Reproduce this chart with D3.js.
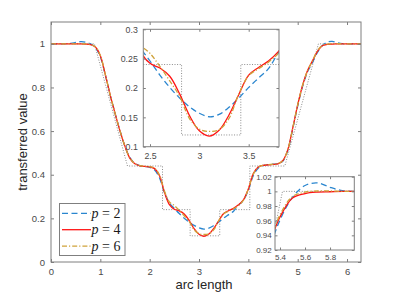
<!DOCTYPE html>
<html>
<head>
<meta charset="utf-8">
<script src="https://cdn.jsdelivr.net/npm/d3@7"></script>
<style>
body{margin:0;background:#fff;}
svg{display:block;font-family:"Liberation Sans",Arial,sans-serif;}
</style>
</head>
<body>
<div id="canvas"></div>
<script>
// sample positions along the arc (shared by the three reconstructions)
var arcS = [0, 0.2, 0.4, 0.5, 0.6, 0.7, 0.8, 0.9, 1.0, 1.1, 1.2, 1.3, 1.4, 1.5, 1.6, 1.7, 1.8, 1.9, 2.0, 2.1,
  2.2, 2.3, 2.4, 2.5, 2.6, 2.7, 2.8, 2.9, 3.0, 3.1, 3.2, 3.3, 3.4, 3.5, 3.6, 3.7, 3.8, 3.9, 4.0, 4.1,
  4.2, 4.3, 4.4, 4.5, 4.6, 4.7, 4.8, 4.9, 5.0, 5.1, 5.2, 5.3, 5.4, 5.5, 5.6, 5.7, 5.8, 5.9, 6.0, 6.1, 6.2832];

var valsP2 = [1.000, 1.000, 1.002, 1.006, 1.010, 1.008, 1.000, 0.983, 0.940, 0.858, 0.765, 0.680, 0.600, 0.530, 0.478, 0.452, 0.442, 0.438, 0.434, 0.422,
  0.385, 0.318, 0.270, 0.246, 0.222, 0.201, 0.183, 0.168, 0.157, 0.151, 0.155, 0.167, 0.183, 0.201, 0.217, 0.233, 0.260, 0.283, 0.330, 0.395,
  0.430, 0.442, 0.446, 0.448, 0.451, 0.463, 0.512, 0.610, 0.715, 0.805, 0.872, 0.915, 0.961, 0.992, 1.008, 1.0115, 1.0055, 1.001, 1.000, 1.000, 1.000];

var valsP4 = [1.000, 1.000, 1.000, 1.000, 1.000, 0.999, 0.996, 0.985, 0.945, 0.860, 0.765, 0.680, 0.600, 0.530, 0.475, 0.450, 0.441, 0.438, 0.436, 0.428,
  0.395, 0.320, 0.263, 0.242, 0.234, 0.220, 0.190, 0.153, 0.127, 0.118, 0.128, 0.154, 0.189, 0.222, 0.235, 0.246, 0.262, 0.285, 0.335, 0.405,
  0.435, 0.443, 0.445, 0.447, 0.450, 0.465, 0.515, 0.615, 0.720, 0.810, 0.878, 0.922, 0.965, 0.991, 0.997, 0.999, 0.9995, 1.000, 1.000, 1.000, 1.000];

var valsP6 = [1.000, 1.000, 1.000, 1.000, 1.000, 1.000, 0.997, 0.986, 0.946, 0.860, 0.765, 0.680, 0.600, 0.530, 0.476, 0.451, 0.442, 0.439, 0.437, 0.430,
  0.398, 0.325, 0.275, 0.259, 0.237, 0.212, 0.186, 0.148, 0.130, 0.126, 0.129, 0.148, 0.190, 0.221, 0.233, 0.244, 0.259, 0.283, 0.335, 0.402,
  0.434, 0.443, 0.446, 0.448, 0.451, 0.464, 0.515, 0.613, 0.720, 0.810, 0.877, 0.922, 0.968, 0.993, 0.999, 1.0005, 1.0005, 1.000, 1.000, 1.000, 1.000];

// original piecewise profile (dotted)
var stepS = [0, 0.88, 1.55, 2.26, 2.26, 2.82, 2.82, 3.42, 3.42, 4.03, 4.03, 4.74, 5.42, 6.2832];
var stepV = [1, 1, 0.44, 0.44, 0.24, 0.24, 0.12, 0.12, 0.24, 0.24, 0.44, 0.44, 1, 1];

var legendP = ['2', '4', '6'];

var xTicks = [0, 1, 2, 3, 4, 5, 6];
var yTicks = [0, 0.2, 0.4, 0.6, 0.8, 1];
var inset1XTicks = [2.5, 3, 3.5];
var inset1YTicks = [0.1, 0.15, 0.2, 0.25, 0.3];
var inset2XTicks = [5.4, 5.6, 5.8];
var inset2YTicks = [0.92, 0.94, 0.96, 0.98, 1, 1.02];

var m = {t:22, r:38, b:33, l:51};
var outerWidth = 399, outerHeight = 295;
var w = outerWidth - m.l - m.r,
    h = outerHeight - m.t - m.b;

var svg = d3.select('#canvas')
    .append('svg')
    .attr('width', outerWidth)
    .attr('height', outerHeight);

function series(vals){
    return arcS.map(function(s, i){ return [s, vals[i]]; });
}
var stepData = stepS.map(function(s, i){ return [s, stepV[i]]; });

var styles = [
    {vals: valsP2, color: '#2a86cf', dash: '6,3.5'},
    {vals: valsP4, color: '#ff1414', dash: null},
    {vals: valsP6, color: '#cfa23a', dash: '5,2,1.2,2'}
];

var frameColor = '#7f7f7f', textColor = '#4a4a4a';

function drawPanel(opt){
    var g = svg.append('g').attr('transform', 'translate(' + opt.x + ',' + opt.y + ')');
    var sx = d3.scaleLinear().domain(opt.xDom).range([0, opt.w]);
    var sy = d3.scaleLinear().domain(opt.yDom).range([opt.h, 0]);

    g.append('rect').attr('width', opt.w).attr('height', opt.h).attr('fill', '#fff');
    g.append('clipPath').attr('id', 'clip-' + opt.name)
        .append('rect').attr('width', opt.w).attr('height', opt.h);

    var plot = g.append('g').attr('clip-path', 'url(#clip-' + opt.name + ')');

    var stepLine = d3.line().x(function(d){ return sx(d[0]); }).y(function(d){ return sy(d[1]); });
    var smooth = d3.line().x(function(d){ return sx(d[0]); }).y(function(d){ return sy(d[1]); })
        .curve(d3.curveCatmullRom.alpha(0.5));

    plot.append('path').datum(stepData)
        .attr('d', stepLine)
        .attr('fill', 'none').attr('stroke', '#8c8c8c')
        .attr('stroke-width', 1).attr('stroke-dasharray', '1,1.6');

    styles.forEach(function(st){
        plot.append('path').datum(series(st.vals))
            .attr('d', smooth)
            .attr('fill', 'none').attr('stroke', st.color)
            .attr('stroke-width', 1.3)
            .attr('stroke-dasharray', st.dash);
    });

    var fmt = function(d){ return d; };
    var axB = g.append('g').attr('transform', 'translate(0,' + opt.h + ')')
        .call(d3.axisBottom(sx).tickValues(opt.xTicks).tickSize(-opt.tick).tickPadding(opt.xPad).tickFormat(fmt));
    var axT = g.append('g')
        .call(d3.axisTop(sx).tickValues(opt.xTicks).tickSize(-opt.tick).tickFormat(''));
    var axL = g.append('g')
        .call(d3.axisLeft(sy).tickValues(opt.yTicks).tickSize(-opt.tick).tickPadding(opt.yPad).tickFormat(fmt));
    var axR = g.append('g').attr('transform', 'translate(' + opt.w + ',0)')
        .call(d3.axisRight(sy).tickValues(opt.yTicks).tickSize(-opt.tick).tickFormat(''));

    [axB, axT, axL, axR].forEach(function(a){
        a.select('.domain').remove();
        a.selectAll('line').attr('stroke', frameColor);
        a.selectAll('text').attr('fill', textColor)
            .style('font-size', opt.font + 'px')
            .style('font-family', '"Liberation Sans",Arial,sans-serif');
    });

    g.append('rect').attr('width', opt.w).attr('height', opt.h)
        .attr('fill', 'none').attr('stroke', frameColor).attr('stroke-width', 1);
    return g;
}

// main axes
drawPanel({name:'main', x:m.l, y:m.t, w:w, h:h, xDom:[0, 2 * Math.PI], yDom:[0, 1.1],
    xTicks:xTicks, yTicks:yTicks, tick:3, xPad:6, yPad:6, font:9.5});

// legend
var leg = svg.append('g');
leg.append('rect').attr('x', 59.5).attr('y', 203.5).attr('width', 65.5).attr('height', 52)
    .attr('fill', '#fff').attr('stroke', frameColor);
styles.forEach(function(st, i){
    var ly = 213.3 + i * 16.4;
    leg.append('line').attr('x1', 62).attr('x2', 91).attr('y1', ly).attr('y2', ly)
        .attr('stroke', st.color).attr('stroke-width', 1.3).attr('stroke-dasharray', st.dash);
    var t = leg.append('text').attr('x', 91.5).attr('y', ly + 4.6)
        .style('font-family', '"Liberation Serif","DejaVu Serif",serif').style('font-size', '14px')
        .attr('fill', '#1a1a1a');
    t.append('tspan').style('font-style', 'italic').text('p');
    t.append('tspan').attr('dx', 3.5).text('=');
    t.append('tspan').attr('dx', 3.5).text(legendP[i]);
});

// zoomed insets
drawPanel({name:'in1', x:143.3, y:29.3, w:135.7, h:117.4, xDom:[2.432, 3.807], yDom:[0.1, 0.3],
    xTicks:inset1XTicks, yTicks:inset1YTicks, tick:2.5, xPad:6, yPad:5.5, font:8.8});
drawPanel({name:'in2', x:275, y:176.7, w:79.3, h:73.3, xDom:[5.36, 5.994], yDom:[0.92, 1.02],
    xTicks:inset2XTicks, yTicks:inset2YTicks, tick:2.5, xPad:4, yPad:3.3, font:8});

// axis titles
svg.append('text').attr('x', 204).attr('y', 289)
    .attr('text-anchor', 'middle').attr('fill', '#262626')
    .style('font-size', '13px').text('arc length');
svg.append('text').attr('transform', 'translate(27,142) rotate(-90)')
    .attr('text-anchor', 'middle').attr('fill', '#262626')
    .style('font-size', '13px').text('transferred value');
</script>
</body>
</html>
